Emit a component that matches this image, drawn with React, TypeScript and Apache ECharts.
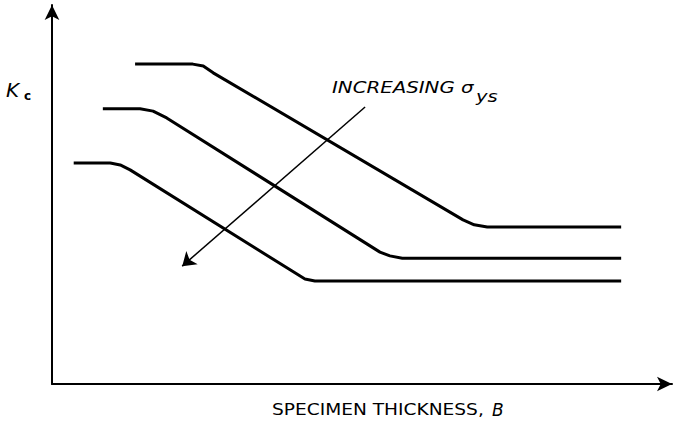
import React, { useEffect, useRef } from "react";
import * as echarts from "echarts";

// Schematic curves: [thickness, Kc] in arbitrary units (0-100)
const curveHigh: [number, number][] = [
  [13.4, 84.4], [22.7, 84.4], [24.4, 83.9], [26.0, 82.1],
  [66.3, 43.3], [68.1, 42.0], [70.2, 41.4], [91.8, 41.4],
];
const curveMid: [number, number][] = [
  [8.2, 72.6], [14.2, 72.6], [16.3, 72.0], [18.5, 70.2],
  [52.9, 34.8], [54.5, 33.8], [56.5, 33.2], [91.8, 33.2],
];
const curveLow: [number, number][] = [
  [3.5, 58.3], [9.4, 58.3], [11.0, 57.8], [12.6, 56.5],
  [39.7, 28.8], [40.8, 27.7], [42.4, 27.2], [91.8, 27.2],
];
const arrowCoords: [number, number][] = [[50.5, 73.1], [21.0, 31.1]];

const xAxisTitle = "SPECIMEN THICKNESS, ";
const xAxisVar = "B";
const yAxisVar = "K";
const yAxisSub = "c";
const arrowLabel = "INCREASING σ";
const arrowSub = "ys";

export default function App() {
  const ref = useRef<HTMLDivElement>(null);
  useEffect(() => {
    if (!ref.current) return;
    const chart = echarts.init(ref.current, null, { renderer: "svg" });
    const lineSeries = (data: [number, number][]) => ({
      type: "line",
      data,
      smooth: false,
      showSymbol: false,
      symbol: "none",
      lineStyle: { color: "#000", width: 3, join: "round", cap: "butt" },
      silent: true,
    });
    const axisCommon = {
      type: "value",
      min: 0,
      max: 100,
      axisTick: { show: false },
      axisLabel: { show: false },
      splitLine: { show: false },
      axisLine: {
        show: true,
        symbol: ["none", "arrow"],
        symbolSize: [11, 15],
        lineStyle: { color: "#000", width: 2 },
      },
    };
    const font = "'DejaVu Sans', sans-serif";
    chart.setOption({
      animation: false,
      backgroundColor: "#fff",
      grid: { left: 52, right: 2, top: 5, bottom: 38 },
      xAxis: { ...axisCommon },
      yAxis: { ...axisCommon },
      series: [
        lineSeries(curveHigh),
        lineSeries(curveMid),
        lineSeries(curveLow),
        {
          type: "lines",
          coordinateSystem: "cartesian2d",
          symbol: ["none", "arrow"],
          symbolSize: 13,
          lineStyle: { color: "#000", width: 1.5, opacity: 1 },
          data: [{ coords: arrowCoords }],
          silent: true,
        },
      ],
      graphic: [
        {
          type: "text",
          x: 6,
          y: 80,
          style: { text: yAxisVar, fontSize: 20, fontStyle: "italic", fontFamily: font, fill: "#000" },
        },
        {
          type: "text",
          x: 24,
          y: 90,
          style: { text: yAxisSub, fontSize: 12, fontWeight: "bold", fontFamily: font, fill: "#000" },
        },
        {
          type: "text",
          x: 332,
          y: 80,
          scaleX: 1.32,
          style: { text: arrowLabel, fontSize: 15, fontStyle: "italic", fontFamily: font, fill: "#000" },
        },
        {
          type: "text",
          x: 476,
          y: 89,
          scaleX: 1.3,
          style: { text: arrowSub, fontSize: 15, fontStyle: "italic", fontFamily: font, fill: "#000" },
        },
        {
          type: "text",
          x: 272,
          y: 402,
          scaleX: 1.24,
          style: { text: xAxisTitle, fontSize: 15, fontFamily: font, fill: "#000" },
        },
        {
          type: "text",
          x: 492,
          y: 401,
          style: { text: xAxisVar, fontSize: 17, fontStyle: "italic", fontFamily: font, fill: "#000" },
        },
      ],
    });
    return () => chart.dispose();
  }, []);
  return (
    <div
      ref={ref}
      style={{ position: "fixed", left: 0, top: 0, width: 674, height: 422, background: "#fff" }}
    />
  );
}
